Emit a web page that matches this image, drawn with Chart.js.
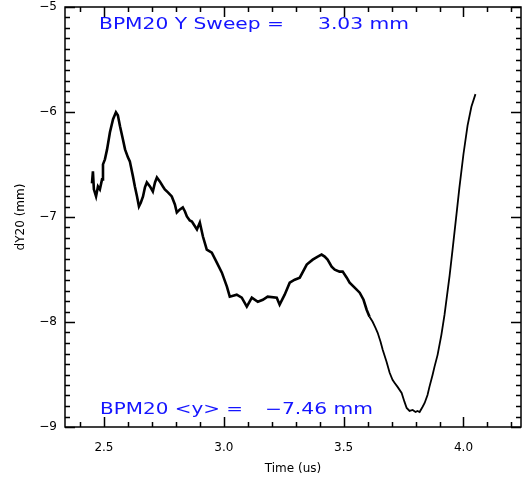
<!DOCTYPE html>
<html>
<head>
<meta charset="utf-8">
<script src="https://cdn.jsdelivr.net/npm/chart.js@4/dist/chart.umd.min.js"></script>
<style>
  html, body { margin: 0; padding: 0; background: #fff; }
  #wrap { width: 522px; height: 479px; }
</style>
</head>
<body>
<div id="wrap"><canvas id="bpm"></canvas></div>
<script>
// BPM20 vertical position vs time
const timeUs = [2.450,2.454,2.458,2.467,2.475,2.483,2.492,2.496,2.504,2.513,
  2.525,2.538,2.550,2.558,2.567,2.579,2.588,2.600,2.608,2.621,
  2.629,2.638,2.646,2.654,2.663,2.671,2.679,2.692,2.704,2.713,
  2.721,2.733,2.746,2.754,2.767,2.783,2.796,2.804,2.817,2.829,
  2.838,2.846,2.858,2.867,2.888,2.900,2.913,2.929,2.950,2.971,
  2.992,3.013,3.025,3.054,3.075,3.096,3.117,3.142,3.163,3.183,
  3.221,3.233,3.254,3.275,3.296,3.317,3.346,3.371,3.392,3.408,
  3.421,3.433,3.450,3.463,3.483,3.496,3.513,3.525,3.546,3.567,
  3.583,3.596,3.608,3.621,3.633,3.642,3.654,3.663,3.679,3.692,
  3.704,3.713,3.725,3.742,3.754,3.763,3.775,3.788,3.800,3.808,
  3.817,3.829,3.838,3.850,3.858,3.871,3.879,3.892,3.908,3.921,
  3.942,3.954,3.971,3.983,4.000,4.017,4.033,4.050];
const dY20 = [-6.680,-6.566,-6.737,-6.804,-6.709,-6.737,-6.642,-6.499,-6.451,-6.356,
  -6.193,-6.069,-6.002,-6.031,-6.136,-6.260,-6.356,-6.432,-6.470,-6.613,
  -6.709,-6.804,-6.900,-6.862,-6.804,-6.718,-6.671,-6.709,-6.757,-6.671,
  -6.623,-6.661,-6.709,-6.737,-6.766,-6.804,-6.881,-6.957,-6.928,-6.909,
  -6.947,-6.995,-7.033,-7.043,-7.119,-7.053,-7.186,-7.310,-7.339,-7.434,
  -7.530,-7.663,-7.759,-7.740,-7.768,-7.854,-7.768,-7.807,-7.788,-7.759,
  -7.768,-7.835,-7.740,-7.625,-7.597,-7.578,-7.453,-7.406,-7.377,-7.358,
  -7.377,-7.406,-7.473,-7.501,-7.520,-7.520,-7.578,-7.625,-7.673,-7.721,
  -7.788,-7.883,-7.950,-7.998,-8.055,-8.103,-8.189,-8.265,-8.379,-8.484,
  -8.551,-8.580,-8.618,-8.675,-8.761,-8.819,-8.847,-8.838,-8.857,-8.847,
  -8.857,-8.809,-8.771,-8.695,-8.618,-8.504,-8.427,-8.313,-8.120,-7.930,
  -7.560,-7.320,-6.970,-6.720,-6.400,-6.130,-5.950,-5.830];

const xTicks = [2.5, 3.0, 3.5, 4.0];
const yTicks = [-9, -8, -7, -6, -5];
const sweepLabel = "BPM20 Y Sweep =";
const sweepValue = "3.03 mm";
const meanLabel = "BPM20 <y> =";
const meanValue = "\u22127.46 mm";

const points = timeUs.map((t, i) => ({ x: t, y: dY20[i] }));

// draw text stretched to a given width (IDL fonts are wide)
function wideText(ctx, str, x, y, w) {
  const m = ctx.measureText(str).width;
  ctx.save();
  ctx.translate(x, y);
  ctx.scale(w / m, 1);
  ctx.fillText(str, 0, 0);
  ctx.restore();
}

const idlFrame = {
  id: "idlFrame",
  afterDraw(chart) {
    const { ctx, chartArea: a, scales: { x, y } } = chart;
    ctx.save();
    ctx.strokeStyle = "#000";
    ctx.lineWidth = 1.5;
    ctx.strokeRect(a.left, a.top, a.right - a.left, a.bottom - a.top);
    ctx.beginPath();
    for (let k = Math.ceil(x.min * 10); k <= Math.floor(x.max * 10); k++) {
      const px = Math.round(x.getPixelForValue(k / 10)) + 0.5;
      const len = k % 5 === 0 ? 10 : 5;
      ctx.moveTo(px, a.bottom); ctx.lineTo(px, a.bottom - len);
      ctx.moveTo(px, a.top); ctx.lineTo(px, a.top + len);
    }
    for (let k = Math.ceil(y.min * 10); k <= Math.floor(y.max * 10); k++) {
      const py = Math.round(y.getPixelForValue(k / 10)) + 0.5;
      const len = k % 10 === 0 ? 10 : 5;
      ctx.moveTo(a.left, py); ctx.lineTo(a.left + len, py);
      ctx.moveTo(a.right, py); ctx.lineTo(a.right - len, py);
    }
    ctx.stroke();

    ctx.fillStyle = "rgb(20,20,255)";
    ctx.font = "15px 'DejaVu Sans'";
    ctx.textBaseline = "alphabetic";
    wideText(ctx, sweepLabel, a.left + 34, a.top + 22, 185);
    wideText(ctx, sweepValue, a.left + 253, a.top + 22, 91);
    wideText(ctx, meanLabel, a.left + 35, a.bottom - 13, 143);
    wideText(ctx, meanValue, a.left + 200, a.bottom - 13, 108);
    ctx.restore();
  }
};

const tickFont = { family: "'DejaVu Sans'", size: 12 };

new Chart(document.getElementById("bpm"), {
  type: "line",
  data: {
    datasets: [{
      data: points,
      borderColor: "#000",
      borderWidth: 2,
      segment: {
        borderWidth: (c) => c.p0.parsed.x < 3.6 ? 2.6 : 1.8
      },
      pointRadius: 0,
      tension: 0,
      fill: false
    }]
  },
  options: {
    responsive: true,
    maintainAspectRatio: false,
    animation: false,
    layout: { padding: { top: 7, right: 1, left: 0, bottom: 0 } },
    plugins: { legend: { display: false }, tooltip: { enabled: false } },
    scales: {
      x: {
        type: "linear",
        min: 2.3375,
        max: 4.24,
        afterBuildTicks: (s) => { s.ticks = xTicks.map(v => ({ value: v })); },
        afterFit: (s) => { s.height = 52; s.paddingLeft = 0; s.paddingRight = 0; },
        grid: { display: false, drawTicks: false },
        border: { display: false },
        ticks: {
          color: "#000",
          font: tickFont,
          padding: 14,
          maxRotation: 0,
          callback: (v) => v.toFixed(1)
        },
        title: {
          display: true,
          text: "Time (us)",
          color: "#000",
          font: tickFont,
          padding: { top: 0, bottom: 3 }
        }
      },
      y: {
        type: "linear",
        min: -9,
        max: -5,
        afterBuildTicks: (s) => { s.ticks = yTicks.map(v => ({ value: v })); },
        afterFit: (s) => { s.width = 65; s.paddingTop = 0; s.paddingBottom = 0; },
        grid: { display: false, drawTicks: false },
        border: { display: false },
        ticks: {
          color: "#000",
          font: tickFont,
          padding: 8,
          callback: (v) => String(v).replace("-", "\u2212")
        },
        title: {
          display: true,
          text: "dY20 (mm)",
          color: "#000",
          font: { family: "'DejaVu Sans'", size: 12 },
          padding: { top: 14, bottom: 0 }
        }
      }
    }
  },
  plugins: [idlFrame]
});
</script>
</body>
</html>
